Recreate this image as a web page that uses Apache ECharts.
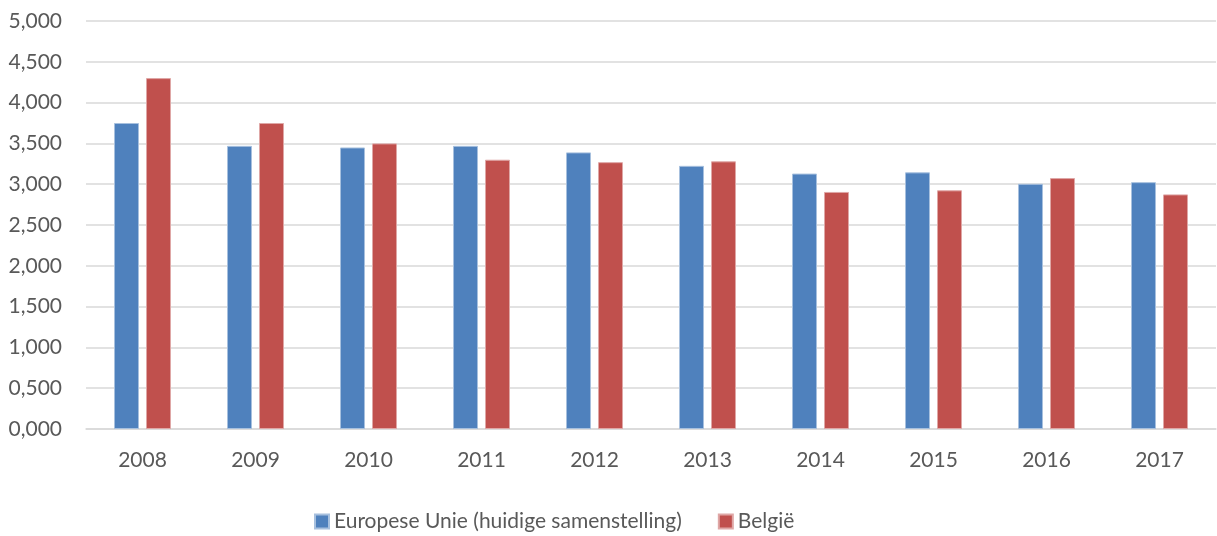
<!DOCTYPE html>
<html>
<head>
<meta charset="utf-8">
<script src="https://cdn.jsdelivr.net/npm/echarts@6/dist/echarts.min.js"></script>
<style>
  html, body { margin: 0; padding: 0; background: #fff; }
  #chart { width: 1217px; height: 536px; }
</style>
</head>
<body>
<div id="chart"></div>
<script>
// data
const years = ['2008', '2009', '2010', '2011', '2012', '2013', '2014', '2015', '2016', '2017'];
const euValues = [3.750, 3.470, 3.450, 3.470, 3.390, 3.225, 3.130, 3.145, 3.005, 3.025];
const beValues = [4.300, 3.750, 3.500, 3.300, 3.270, 3.280, 2.905, 2.925, 3.075, 2.875];
const seriesNames = ['Europese Unie (huidige samenstelling)', 'België'];

const fontFam = 'Lato, "Open Sans", sans-serif';
const textColor = '#595959';

let myChart = echarts.init(document.getElementById('chart'));

var option = {
  animation: false,
  grid: {
    left: 86,
    right: 1,
    top: 21,
    bottom: 107
  },
  legend: {
    top: 511,
    left: 314,
    padding: 0,
    itemWidth: 14,
    itemHeight: 14,
    itemGap: 36,
    icon: 'rect',
    textStyle: { color: textColor, fontSize: 21, fontFamily: fontFam },
    data: seriesNames
  },
  xAxis: {
    type: 'category',
    data: years,
    axisTick: { show: false },
    axisLine: { lineStyle: { color: '#d9d9d9', width: 1.5 } },
    axisLabel: { color: textColor, fontSize: 21, fontFamily: fontFam, margin: 21 }
  },
  yAxis: {
    type: 'value',
    min: 0,
    max: 5,
    interval: 0.5,
    axisLine: { show: false },
    axisTick: { show: false },
    splitLine: { lineStyle: { color: '#d9d9d9', width: 1.5 } },
    axisLabel: {
      color: textColor,
      fontSize: 21,
      fontFamily: fontFam,
      margin: 24,
      formatter: v => v.toFixed(3).replace('.', ',')
    }
  },
  series: [
    {
      name: seriesNames[0],
      type: 'bar',
      data: euValues,
      barWidth: 25,
      barGap: '28%',
      itemStyle: { color: '#4F81BD', borderColor: '#a7c0de', borderWidth: 1 }
    },
    {
      name: seriesNames[1],
      type: 'bar',
      data: beValues,
      barWidth: 25,
      itemStyle: { color: '#C0504D', borderColor: '#dfa7a6', borderWidth: 1 }
    }
  ]
};

myChart.setOption(option);
window.addEventListener('resize', () => {
  myChart.resize();
});
</script>
</body>
</html>
